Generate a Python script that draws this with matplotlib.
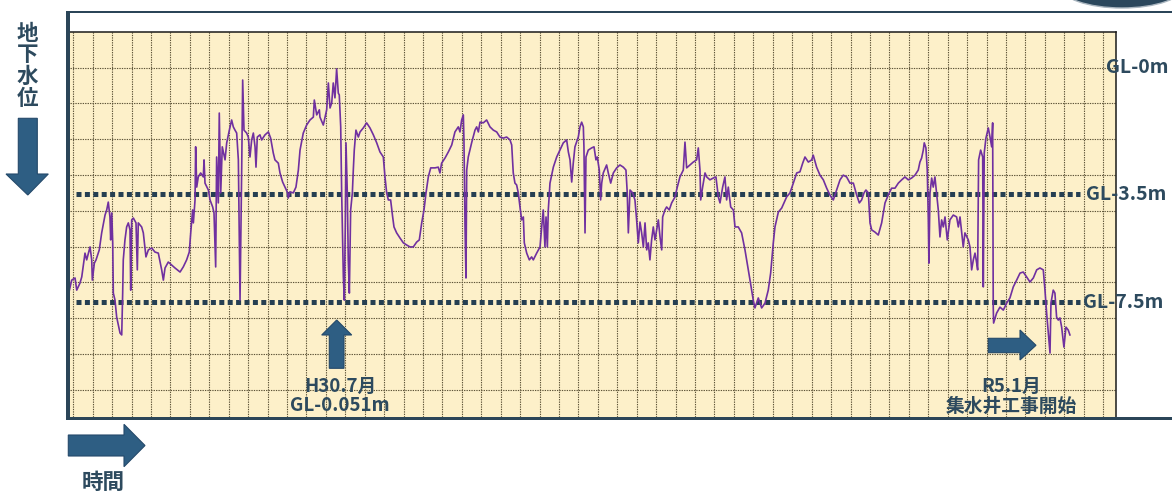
import numpy as np
import matplotlib
matplotlib.use("Agg")
import matplotlib.pyplot as plt
from matplotlib.patches import Polygon, Rectangle, Ellipse
from matplotlib.transforms import blended_transform_factory

plt.rcParams['font.family'] = ['Noto Sans CJK JP', 'DejaVu Sans']

# Elapsed time in months since January 2016 (H28.1)
months = [
    7.36, 7.64, 7.92, 8.06, 8.33, 8.48, 8.75, 8.89, 9.17, 9.31, 9.36, 9.53, 9.67, 9.94,
    10.14, 10.42, 10.56, 10.69, 10.83, 10.89, 10.98, 11.06, 11.11, 11.25, 11.39, 11.67,
    11.81, 11.89, 11.94, 12.08, 12.22, 12.36, 12.50, 12.56, 12.64, 12.78, 13.00, 13.11,
    13.19, 13.47, 13.61, 13.83, 14.03, 14.31, 14.58, 14.86, 15.14, 15.28, 15.42, 15.69,
    15.97, 16.25, 16.67, 16.94, 17.22, 17.44, 17.56, 17.72, 17.78, 17.92, 17.97, 18.06,
    18.19, 18.39, 18.61, 18.67, 18.75, 19.03, 19.17, 19.39, 19.50, 19.64, 19.72, 19.86,
    19.94, 20.06, 20.19, 20.42, 20.56, 20.78, 20.97, 21.11, 21.25, 21.39, 21.53, 21.67,
    21.81, 21.89, 22.00, 22.22, 22.36, 22.50, 22.64, 22.78, 22.92, 23.00, 23.11, 23.33,
    23.47, 23.75, 24.03, 24.22, 24.44, 24.58, 24.86, 25.00, 25.22, 25.42, 25.64, 25.69,
    25.83, 26.11, 26.33, 26.53, 26.67, 26.94, 27.22, 27.50, 27.78, 27.86, 28.06, 28.28,
    28.33, 28.61, 28.89, 29.03, 29.17, 29.31, 29.44, 29.58, 29.72, 29.86, 29.94, 30.06,
    30.14, 30.28, 30.36, 30.44, 30.50, 30.61, 30.69, 30.78, 30.89, 31.03, 31.11, 31.19,
    31.33, 31.53, 31.67, 31.94, 32.22, 32.50, 32.78, 33.06, 33.33, 33.61, 33.75, 33.89,
    34.03, 34.22, 34.39, 34.50, 34.72, 35.00, 35.28, 35.56, 35.83, 36.11, 36.39, 36.61,
    36.81, 37.00, 37.17, 37.36, 37.56, 37.92, 38.19, 38.33, 38.47, 38.75, 39.03, 39.31,
    39.58, 39.86, 40.00, 40.14, 40.28, 40.33, 40.42, 40.50, 40.56, 40.69, 40.97, 41.25,
    41.39, 41.53, 41.67, 41.94, 42.22, 42.50, 42.78, 43.06, 43.33, 43.61, 43.89, 44.17,
    44.31, 44.44, 44.58, 44.72, 44.86, 45.00, 45.14, 45.28, 45.36, 45.56, 45.78, 45.97,
    46.11, 46.39, 46.67, 46.81, 46.94, 47.08, 47.17, 47.28, 47.36, 47.50, 47.78, 48.06,
    48.33, 48.61, 48.89, 49.03, 49.17, 49.31, 49.44, 49.58, 49.86, 50.00, 50.14, 50.28,
    50.33, 50.42, 50.50, 50.69, 50.97, 51.17, 51.33, 51.44, 51.61, 51.72, 51.81, 51.94,
    52.22, 52.36, 52.56, 52.78, 53.06, 53.33, 53.61, 53.83, 53.94, 54.03, 54.17, 54.39,
    54.58, 54.72, 54.86, 55.00, 55.14, 55.28, 55.42, 55.56, 55.69, 55.83, 55.97, 56.11,
    56.25, 56.39, 56.53, 56.67, 56.81, 56.89, 57.08, 57.22, 57.44, 57.64, 57.92, 58.11,
    58.33, 58.61, 58.75, 58.89, 59.17, 59.44, 59.72, 59.86, 60.00, 60.06, 60.22, 60.42,
    60.56, 60.83, 61.11, 61.33, 61.53, 61.67, 61.89, 62.08, 62.22, 62.36, 62.56, 62.78,
    62.92, 63.19, 63.47, 63.75, 63.89, 64.17, 64.44, 64.58, 64.86, 65.14, 65.42, 65.69,
    65.89, 66.11, 66.25, 66.53, 66.81, 67.00, 67.22, 67.50, 67.78, 68.06, 68.33, 68.56,
    68.75, 69.03, 69.31, 69.44, 69.72, 70.00, 70.28, 70.56, 70.83, 71.11, 71.39, 71.67,
    71.94, 72.22, 72.50, 72.78, 73.06, 73.28, 73.47, 73.67, 73.83, 74.03, 74.17, 74.31,
    74.58, 74.86, 75.14, 75.42, 75.69, 75.97, 76.25, 76.53, 76.81, 77.08, 77.36, 77.64,
    77.92, 78.19, 78.33, 78.47, 78.61, 78.69, 78.83, 78.94, 79.03, 79.08, 79.17, 79.31,
    79.44, 79.58, 79.72, 79.86, 80.00, 80.14, 80.28, 80.42, 80.61, 80.83, 81.11, 81.39,
    81.53, 81.67, 81.81, 81.94, 82.08, 82.36, 82.50, 82.64, 82.78, 82.92, 83.06, 83.14,
    83.22, 83.39, 83.56, 83.61, 83.69, 83.83, 84.03, 84.17, 84.31, 84.39, 84.44, 84.47,
    84.72, 85.00, 85.28, 85.56, 85.83, 86.11, 86.39, 86.67, 86.94, 87.22, 87.50, 87.78,
    88.06, 88.33, 88.61, 88.75, 88.89, 89.03, 89.17, 89.25, 89.44, 89.58, 89.72, 89.86,
    90.00, 90.14, 90.33, 90.50, 90.69, 90.83,
]

# Groundwater depth below ground level (m)
depth_m = [
    7.24, 6.69, 6.61, 7.06, 6.80, 6.57, 5.69, 5.94, 5.46, 5.94, 6.69, 6.06, 5.94, 5.57,
    4.94, 4.28, 4.09, 3.80, 4.35, 5.20, 4.20, 5.31, 7.17, 7.43, 8.06, 8.65,
    8.72, 7.17, 5.94, 5.20, 4.72, 4.57, 4.83, 7.06, 4.46, 4.39, 4.57, 6.31,
    4.57, 4.72, 4.94, 5.83, 5.57, 5.50, 5.65, 5.69, 6.31, 6.69, 6.24, 6.02,
    6.13, 6.24, 6.39, 6.20, 5.94, 5.65, 4.94, 4.09, 4.57, 3.72, 2.20, 3.31,
    3.03, 2.92, 3.03, 2.56, 3.20, 3.39, 3.72, 3.98, 4.20, 6.20, 2.48, 3.83,
    1.27, 3.47, 2.20, 2.56, 2.09, 1.74, 1.46, 1.65, 1.74, 1.82, 2.56, 7.43,
    2.76, 0.36, 1.74, 1.82, 1.93, 2.48, 2.01, 1.82, 2.20, 2.76, 1.93, 1.87,
    2.01, 1.87, 1.79, 1.96, 2.37, 2.56, 2.65, 2.92, 3.17, 3.31, 3.47, 3.65,
    3.44, 3.47, 3.31, 2.84, 2.29, 1.82, 1.60, 1.46, 1.38, 0.91, 1.32, 1.18,
    1.38, 1.60, 1.18, 0.44, 1.13, 0.99, 0.44, 0.85, 0.051, 0.72, 0.77, 1.65,
    3.47, 6.57, 7.43, 4.72, 2.09, 3.47, 5.94, 7.17, 4.09, 3.47, 2.84, 2.29,
    1.74, 1.93, 1.79, 1.68, 1.54, 1.68, 1.87, 2.09, 2.34, 2.48, 3.03, 3.47,
    3.72, 3.72, 4.35, 4.72, 4.94, 5.13, 5.31, 5.39, 5.46, 5.46, 5.28, 5.20,
    4.57, 4.09, 3.47, 3.03, 2.78, 2.78, 2.76, 2.92, 2.65, 2.51, 2.34, 2.15,
    1.79, 1.65, 1.79, 1.46, 1.32, 2.01, 4.72, 6.61, 2.84, 2.48, 2.09, 1.74,
    1.65, 1.79, 1.52, 1.54, 1.46, 1.65, 1.74, 1.79, 1.93, 1.96, 1.93, 2.01,
    2.15, 2.92, 3.20, 3.25, 3.47, 3.98, 4.46, 4.35, 5.31, 5.69, 5.94, 5.83,
    5.94, 5.69, 5.46, 4.72, 4.09, 5.46, 4.35, 5.46, 4.09, 3.20, 2.76, 2.48,
    2.29, 2.09, 2.01, 2.34, 2.56, 3.17, 2.65, 2.20, 1.93, 1.65, 1.52, 1.65,
    2.20, 4.94, 2.48, 2.29, 2.23, 2.20, 2.56, 2.48, 2.84, 3.72, 3.20, 2.92,
    2.70, 2.92, 3.20, 2.92, 2.78, 2.70, 2.76, 2.84, 3.47, 4.94, 3.39, 3.47,
    3.72, 4.46, 5.31, 4.54, 4.94, 5.46, 4.57, 5.57, 5.31, 5.94, 5.20, 4.72,
    5.20, 4.83, 4.46, 5.09, 5.57, 4.35, 4.09, 3.98, 4.09, 3.83, 3.61, 3.31,
    3.03, 2.84, 2.07, 2.78, 2.70, 2.62, 2.56, 2.23, 2.84, 3.72, 3.31, 2.92,
    3.03, 3.11, 3.06, 3.03, 3.61, 3.83, 3.31, 3.03, 3.72, 3.31, 3.98, 4.09,
    4.72, 4.72, 4.94, 5.57, 5.94, 6.69, 7.43, 7.72, 7.35, 7.72, 7.54, 7.06,
    6.43, 5.31, 4.72, 4.17, 4.02, 3.83, 3.61, 3.47, 3.20, 2.92, 2.89, 2.65,
    2.48, 2.62, 2.56, 2.43, 2.76, 2.98, 3.11, 3.34, 3.54, 3.72, 3.39, 3.11,
    2.98, 3.03, 3.20, 3.20, 3.54, 3.83, 3.72, 3.47, 3.39, 3.47, 4.57, 4.83,
    4.91, 5.02, 4.57, 3.83, 3.54, 3.34, 3.34, 3.20, 3.11, 3.03, 3.11, 3.06,
    2.98, 2.84, 2.62, 2.51, 2.29, 2.09, 2.23, 2.84, 4.46, 6.06, 3.47, 3.06,
    3.31, 3.03, 3.47, 4.09, 5.09, 4.46, 4.72, 4.35, 5.20, 4.46, 4.28, 4.35,
    4.72, 4.35, 4.94, 5.46, 4.94, 5.20, 5.46, 6.31, 5.94, 5.69, 6.06, 6.31,
    2.56, 2.29, 2.48, 6.94, 2.37, 1.96, 1.68, 1.93, 2.20, 1.54, 7.69, 8.28,
    7.91, 7.69, 7.80, 7.54, 7.35, 6.94, 6.69, 6.43, 6.39, 6.57, 6.76, 6.61,
    6.31, 6.24, 6.31, 7.06, 7.91, 8.65, 9.39, 7.54, 7.06, 7.17, 8.06, 8.17,
    8.09, 8.43, 9.17, 8.43, 8.54, 8.72,
]

ref_depths = [3.5, 7.5]
level_depths = [0.0, 3.5, 7.5]
level_labels = ['GL-0m', 'GL-3.5m', 'GL-7.5m']
peak_text = 'H30.7月\nGL-0.051m'
works_text = 'R5.1月\n集水井工事開始'
y_title = ['地', '下', '水', '位']
x_title = '時間'

W, H = 1172, 491
INK = '#2d4a5e'
ARROW = '#2e5e83'
FRAME = '#2b4558'

fig = plt.figure(figsize=(W / 100, H / 100), dpi=100)
fig.patch.set_facecolor('white')

# Plot panel (pixel box 70..1116 x 31.7..417)
px_l, px_r, px_t, px_b = 70.0, 1116.0, 31.7, 417.0
ax = fig.add_axes([px_l / W, 1 - px_b / H, (px_r - px_l) / W, (px_b - px_t) / H])
ax.set_facecolor('#fdf0c9')

# Schematic depth axis: GL-0m ... GL-3.5m is drawn taller than GL-3.5m ... GL-7.5m
_kd = np.array([-10.0, 0.0, 3.5, 7.5, 25.0])
_kp = np.array([-10.0 * 36.29, 0.0, 127.0, 235.0, 235.0 + 17.5 * 27.0])


def _fwd(d):
    return np.interp(np.asarray(d, dtype=float), _kd, _kp)


def _inv(p):
    return np.interp(np.asarray(p, dtype=float), _kp, _kd)


ax.set_yscale('function', functions=(_fwd, _inv))
ax.set_xlim(7.5, 94.67)
ax.set_ylim(_inv(px_b - 67.0), _inv(px_t - 67.0))

# Background grid (drawn in panel fractions)
grid_kw = dict(transform=ax.transAxes, color='#5e5438', lw=0.8,
               ls=(0, (1.2, 1.0)), zorder=1, clip_on=False)
for k in range(54):
    fx = (73.3 + k * 19.43 - px_l) / (px_r - px_l)
    ax.plot([fx, fx], [0, 1], **grid_kw)
for k in range(1, 11):
    fy = 1 - k * 35.8 / (px_b - px_t)
    ax.plot([0, 1], [fy, fy], **grid_kw)

# Reference levels
for d in ref_depths:
    ax.axhline(d, xmin=0.006, xmax=0.966, color='#263f52', lw=3.6,
               ls=(0, (1.0, 0.68)), dash_capstyle='butt', zorder=3)

# Groundwater level trace
ax.plot(months, depth_m, color='#7030a0', lw=1.2, zorder=4, solid_joinstyle='round')

ax.set_xticks([])
ax.set_yticks([])
ax.yaxis.set_minor_locator(matplotlib.ticker.NullLocator())
for side in ['left', 'bottom']:
    ax.spines[side].set_visible(False)
for side in ['top', 'right']:
    ax.spines[side].set_color('#1a1a1a')
    ax.spines[side].set_linewidth(1.1)

# Overlay in pixel coordinates for frame, arrows and captions
ov = fig.add_axes([0, 0, 1, 1], zorder=5)
ov.set_xlim(0, W)
ov.set_ylim(H, 0)
ov.axis('off')
ov.patch.set_alpha(0)

ov.add_patch(Rectangle((66, 10.8), W - 66, 2.6, color=FRAME, lw=0))
ov.add_patch(Rectangle((66, 417.3), W - 66, 3.0, color=FRAME, lw=0))
ov.add_patch(Rectangle((66, 10.8), 4.0, 409.5, color=FRAME, lw=0))
ov.add_patch(Ellipse((1122, -14), 124, 44, facecolor='#2b475c',
                     edgecolor='#a9b5bf', lw=1.0))

arrow_kw = dict(closed=True, facecolor=ARROW, edgecolor='#24496a', lw=0.8)
ov.add_patch(Polygon([(18.3, 118.3), (37.3, 118.3), (37.3, 174), (48.3, 174),
                      (27.8, 195), (6, 174), (18.3, 174)], **arrow_kw))
ov.add_patch(Polygon([(68.3, 435), (124, 435), (124, 424.3), (145, 445.5),
                      (124, 466.7), (124, 456), (68.3, 456)], **arrow_kw))
ov.add_patch(Polygon([(329.3, 368.3), (329.3, 335), (321.7, 335), (336.7, 320),
                      (351.7, 335), (344, 335), (344, 368.3)], **arrow_kw))
ov.add_patch(Polygon([(988.3, 338.3), (1020, 338.3), (1020, 330), (1036, 345.3),
                      (1020, 360), (1020, 352.7), (988.3, 352.7)], **arrow_kw))

# Axis captions
for ch, yy in zip(y_title, [33.5, 54.5, 76, 98]):
    ov.text(27.5, yy, ch, ha='center', va='center', fontsize=15.5,
            fontweight='bold', color=INK)
ov.text(103, 482, x_title, ha='center', va='center', fontsize=15.5,
        fontweight='bold', color=INK)

# Level labels on the right, placed at their depths
lbl_tr = blended_transform_factory(ov.transData, ax.transData)
for d, lab, x0 in zip(level_depths, level_labels, [1106, 1086, 1083]):
    ov.text(x0, d, lab, transform=lbl_tr, ha='left', va='center',
            fontsize=14, color=INK, fontweight='bold', clip_on=False)

ov.text(340, 396, peak_text, ha='center', va='center', fontsize=13.5,
        color=INK, fontweight='bold', linespacing=1.05)
ov.text(1011, 396, works_text, ha='center', va='center', fontsize=13.5,
        color=INK, fontweight='bold', linespacing=1.05)

fig.savefig('out.png', dpi=100, facecolor='white')
